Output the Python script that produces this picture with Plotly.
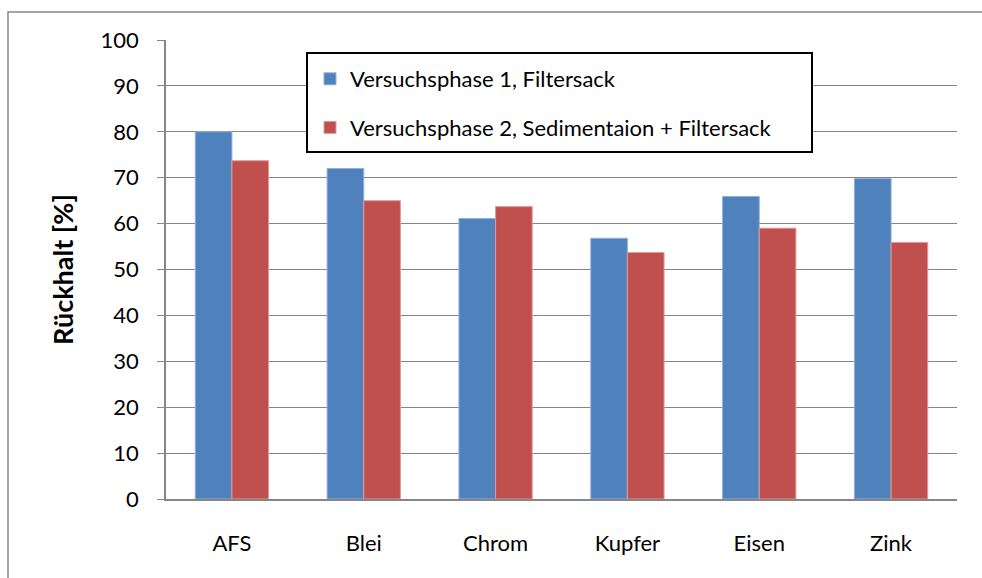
import plotly.graph_objects as go

categories = ["AFS", "Blei", "Chrom", "Kupfer", "Eisen", "Zink"]
phase1 = [80.0, 72.0, 61.1, 56.8, 65.9, 69.8]
phase2 = [73.7, 65.0, 63.7, 53.7, 59.0, 55.9]
series_names = ["Versuchsphase 1, Filtersack", "Versuchsphase 2, Sedimentaion + Filtersack"]
y_ticks = [0, 10, 20, 30, 40, 50, 60, 70, 80, 90, 100]

W, H = 982, 578
L, R, T, B = 166, 25, 40, 79
pw, ph = W - L - R, H - T - B

def px_x(x):
    return (x - L) / pw

def px_y(y):
    return (H - B - y) / ph

FONT = "Lato"

fig = go.Figure()
fig.add_trace(go.Bar(x=categories, y=phase1, name=series_names[0],
                     marker=dict(color="#4F81BD", line=dict(color="#8FB0DA", width=1)),
                     legendgroup="a"))
fig.add_trace(go.Bar(x=categories, y=phase2, name=series_names[1],
                     marker=dict(color="#C0504D", line=dict(color="#E09A98", width=1)),
                     legendgroup="b"))

fig.update_layout(
    width=W, height=H,
    margin=dict(l=L, r=R, t=T, b=B, autoexpand=False),
    paper_bgcolor="white", plot_bgcolor="white",
    barmode="group", bargap=0.444, bargroupgap=0,
    font=dict(family=FONT, size=22, color="#000000"),
    showlegend=True,
    legend=dict(x=px_x(310), y=px_y(58), xanchor="left", yanchor="top",
                bgcolor="rgba(0,0,0,0)", borderwidth=0,
                font=dict(family=FONT, size=22, color="#000000"),
                tracegroupgap=17, itemwidth=30),
    xaxis=dict(showgrid=False, showline=True, linecolor="#868686", linewidth=1.5,
               ticks="", tickfont=dict(family=FONT, size=22), ticklabelstandoff=24,
               range=[-0.5, 5.5], fixedrange=True),
    yaxis=dict(range=[0, 100], tickvals=y_ticks, showgrid=True, gridcolor="#868686",
               gridwidth=1.3, showline=True, linecolor="#868686", linewidth=1.5,
               ticks="outside", ticklen=7, tickcolor="#868686", tickwidth=1.3,
               tickfont=dict(family=FONT, size=22), ticklabelstandoff=14,
               title=dict(text="<b>Rückhalt [%]</b>", font=dict(family=FONT, size=27), standoff=19),
               zeroline=False, fixedrange=True),
    shapes=[
        dict(type="rect", xref="paper", yref="paper",
             x0=px_x(8), x1=px_x(1000), y0=px_y(600), y1=px_y(12),
             line=dict(color="#868686", width=1.5), fillcolor="rgba(0,0,0,0)", layer="below"),
        dict(type="rect", xref="paper", yref="paper",
             x0=px_x(307), x1=px_x(812), y0=px_y(152), y1=px_y(53),
             line=dict(color="#000000", width=2), fillcolor="white", layer="above"),
    ],
)

fig.write_html("out.html", config={"displayModeBar": False},
               post_script="document.body.style.margin='0';document.body.style.overflow='hidden';")
